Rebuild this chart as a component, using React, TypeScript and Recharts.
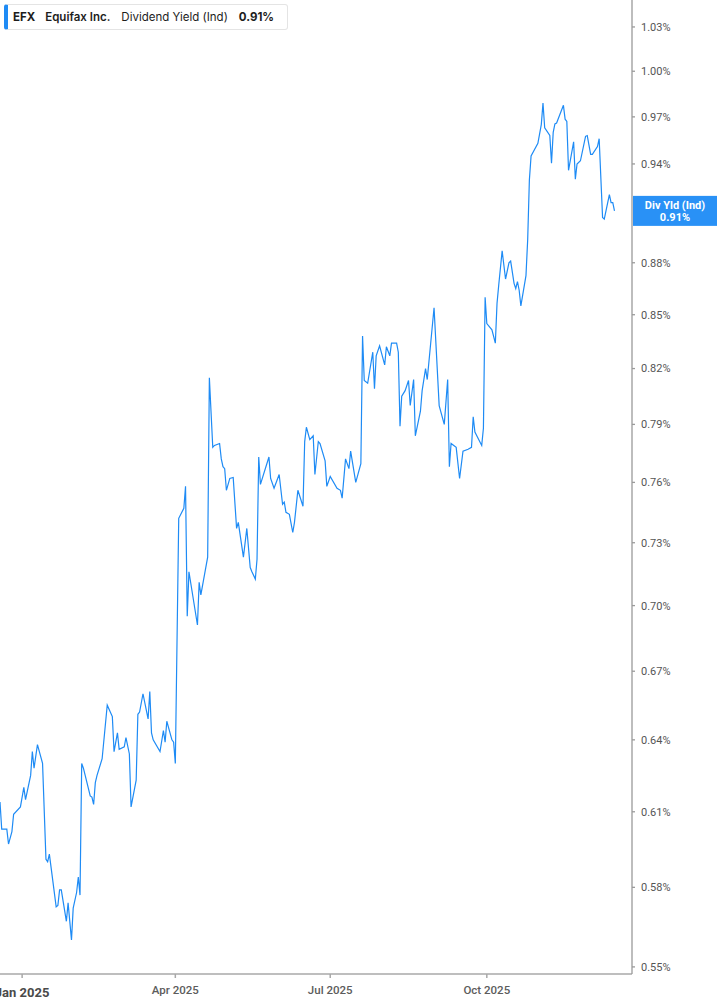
import React from "react";
import { LineChart, Line, XAxis, YAxis, ReferenceLine } from "recharts";

const dates: string[] = [
  "2024-12-19","2024-12-20","2024-12-23","2024-12-24","2024-12-26","2024-12-27","2024-12-31",
  "2025-01-02","2025-01-03","2025-01-06","2025-01-07","2025-01-08","2025-01-10","2025-01-13",
  "2025-01-15","2025-01-16","2025-01-17","2025-01-21","2025-01-22","2025-01-23","2025-01-24",
  "2025-01-27","2025-01-28","2025-01-30","2025-01-31","2025-02-02","2025-02-03","2025-02-04",
  "2025-02-05","2025-02-06","2025-02-10","2025-02-11","2025-02-12","2025-02-13","2025-02-14",
  "2025-02-17","2025-02-20","2025-02-23","2025-02-24","2025-02-26","2025-02-27","2025-03-02",
  "2025-03-03","2025-03-05","2025-03-06","2025-03-09","2025-03-10","2025-03-11","2025-03-13",
  "2025-03-16","2025-03-17","2025-03-18","2025-03-19","2025-03-23","2025-03-25","2025-03-26",
  "2025-03-27","2025-03-30","2025-03-31","2025-04-01","2025-04-03","2025-04-06","2025-04-07",
  "2025-04-08","2025-04-09","2025-04-14","2025-04-15","2025-04-16","2025-04-20","2025-04-21",
  "2025-04-23","2025-04-24","2025-04-27","2025-04-28","2025-04-29","2025-04-30","2025-05-01",
  "2025-05-03","2025-05-05","2025-05-07","2025-05-08","2025-05-11","2025-05-13","2025-05-15",
  "2025-05-16","2025-05-18","2025-05-19","2025-05-20","2025-05-21","2025-05-26","2025-05-27",
  "2025-05-29","2025-06-01","2025-06-03","2025-06-04","2025-06-05","2025-06-07","2025-06-09",
  "2025-06-10","2025-06-12","2025-06-15","2025-06-16","2025-06-17","2025-06-19","2025-06-21",
  "2025-06-22","2025-06-24","2025-06-25","2025-06-28","2025-06-29","2025-07-01","2025-07-05",
  "2025-07-07","2025-07-08","2025-07-10","2025-07-12","2025-07-13","2025-07-16","2025-07-19",
  "2025-07-20","2025-07-21","2025-07-23","2025-07-26","2025-07-27","2025-07-28","2025-07-30",
  "2025-08-02","2025-08-03","2025-08-05","2025-08-06","2025-08-09","2025-08-10","2025-08-11",
  "2025-08-12","2025-08-14","2025-08-16","2025-08-17","2025-08-19","2025-08-20","2025-08-23",
  "2025-08-24","2025-08-26","2025-08-27","2025-08-31","2025-09-03","2025-09-06","2025-09-08",
  "2025-09-09","2025-09-10","2025-09-13","2025-09-15","2025-09-17","2025-09-20","2025-09-22",
  "2025-09-23","2025-09-24","2025-09-28","2025-09-29","2025-09-30","2025-10-01","2025-10-04",
  "2025-10-06","2025-10-07","2025-10-08","2025-10-10","2025-10-12","2025-10-14","2025-10-15",
  "2025-10-17","2025-10-18","2025-10-19","2025-10-20","2025-10-21","2025-10-24","2025-10-25",
  "2025-10-26","2025-10-27","2025-10-31","2025-11-02","2025-11-03","2025-11-04","2025-11-07",
  "2025-11-08","2025-11-09","2025-11-10","2025-11-11","2025-11-15","2025-11-16","2025-11-17",
  "2025-11-18","2025-11-21","2025-11-22","2025-11-23","2025-11-25","2025-11-28","2025-11-29",
  "2025-12-01","2025-12-02","2025-12-05","2025-12-06","2025-12-08","2025-12-09","2025-12-12",
  "2025-12-13","2025-12-14","2025-12-15",
];

const divYield: number[] = [
  0.614,0.603,0.603,0.597,0.602,0.609,0.612,
  0.620,0.615,0.625,0.635,0.628,0.638,0.630,
  0.591,0.590,0.593,0.5725,0.573,0.579,0.579,
  0.567,0.574,0.560,0.572,0.578,0.584,0.577,
  0.630,0.628,0.6165,0.616,0.613,0.622,0.625,
  0.632,0.655,0.650,0.635,0.643,0.636,0.637,
  0.641,0.634,0.612,0.623,0.651,0.652,0.660,
  0.649,0.661,0.643,0.640,0.635,0.644,0.639,
  0.648,0.640,0.639,0.630,0.742,0.747,0.758,
  0.695,0.716,0.691,0.711,0.705,0.723,0.815,
  0.778,0.779,0.780,0.772,0.768,0.767,0.756,
  0.762,0.7625,0.737,0.740,0.723,0.737,0.718,
  0.716,0.7125,0.722,0.773,0.759,0.773,0.762,
  0.757,0.764,0.749,0.750,0.745,0.744,0.735,
  0.740,0.756,0.748,0.781,0.7885,0.782,0.784,
  0.764,0.781,0.780,0.771,0.758,0.763,0.757,
  0.756,0.752,0.772,0.767,0.776,0.760,0.7695,
  0.838,0.8135,0.812,0.829,0.809,0.827,0.8325,
  0.822,0.832,0.827,0.834,0.834,0.829,0.789,
  0.805,0.808,0.8135,0.800,0.814,0.784,0.797,
  0.808,0.820,0.814,0.854,0.800,0.790,0.814,
  0.768,0.780,0.778,0.762,0.776,0.777,0.778,
  0.794,0.786,0.779,0.788,0.860,0.845,0.8415,
  0.834,0.8565,0.867,0.887,0.8705,0.880,0.881,
  0.868,0.865,0.869,0.864,0.855,0.8725,0.8935,
  0.930,0.945,0.953,0.965,0.979,0.963,0.958,
  0.9405,0.960,0.9655,0.966,0.9775,0.9685,0.967,
  0.936,0.954,0.9305,0.940,0.942,0.9575,0.958,
  0.946,0.946,0.951,0.956,0.907,0.906,0.921,
  0.916,0.916,0.911,
];

const xTickDates: string[] = ["2025-01-01", "2025-04-01", "2025-07-01", "2025-10-01"];
const xTickLabels: string[] = ["Jan 2025", "Apr 2025", "Jul 2025", "Oct 2025"];
const yTicks: number[] = [0.55, 0.58, 0.61, 0.64, 0.67, 0.70, 0.73, 0.76, 0.79, 0.82, 0.85, 0.88, 0.94, 0.97, 1.0, 1.03];

const lastValueLabel = "0.91%";
const BLUE = "#1e8bf5";

const toTs = (d: string) => Date.parse(d + "T00:00:00Z");
const data = dates.map((d, i) => ({ t: toTs(d), v: divYield[i] }));
const xTicks = xTickDates.map(toTs);
const xDomain: [number, number] = [Date.UTC(2024, 11, 19), Date.UTC(2025, 11, 25, 7)];
const lastValue = divYield[divYield.length - 1];

const XTick = (props: any) => {
  const { x, y, payload } = props;
  const idx = xTicks.indexOf(payload.value);
  const label = xTickLabels[idx] ?? "";
  const isYear = idx === 0;
  return (
    <text
      x={x}
      y={y}
      dy={isYear ? 17 : 14}
      textAnchor="middle"
      fontFamily="Roboto, 'Liberation Sans', sans-serif"
      fontSize={isYear ? 13 : 11.5}
      fontWeight={isYear ? 700 : 500}
      fill={isYear ? "#4a4a4a" : "#5c5c5c"}
    >
      {label}
    </text>
  );
};

const PriceTag = (props: any) => {
  const vb = props.viewBox || {};
  const x0 = (vb.x ?? 0) + (vb.width ?? 0) + 1;
  const y0 = vb.y ?? 0;
  return (
    <g>
      <rect x={x0} y={y0 - 15} width={86} height={30} fill={BLUE} fillOpacity={0.95} />
      <text
        x={x0 + 42}
        y={y0 - 2}
        textAnchor="middle"
        fontFamily="Roboto, 'Liberation Sans', sans-serif"
        fontSize={11}
        fontWeight={700}
        fill="#ffffff"
      >
        Div Yld (Ind)
      </text>
      <text
        x={x0 + 42}
        y={y0 + 10}
        textAnchor="middle"
        fontFamily="Roboto, 'Liberation Sans', sans-serif"
        fontSize={11}
        fontWeight={700}
        fill="#ffffff"
      >
        {lastValueLabel}
      </text>
    </g>
  );
};

export default function App() {
  return (
    <div style={{ position: "absolute", left: 0, top: 0, width: 717, height: 1005, background: "#fff" }}>
      <LineChart width={717} height={1005} data={data} margin={{ top: 0, right: 0, bottom: 0, left: 0 }}>
        <XAxis
          dataKey="t"
          type="number"
          scale="time"
          domain={xDomain}
          allowDataOverflow
          ticks={xTicks}
          interval={0}
          height={31}
          stroke="#a8a8a8"
          strokeWidth={1.5}
          tickSize={4}
          tickMargin={2}
          tick={<XTick />}
        />
        <YAxis
          orientation="right"
          scale="log"
          domain={[0.5474, 1.0487]}
          allowDataOverflow
          ticks={yTicks}
          interval={0}
          width={85}
          stroke="#9a9a9a"
          strokeWidth={1.3}
          tickSize={3}
          tickMargin={6}
          tick={{ fontSize: 11, fill: "#555", fontFamily: "Roboto, 'Liberation Sans', sans-serif" }}
          tickFormatter={(v: number) => v.toFixed(2) + "%"}
        />
        <Line
          type="linear"
          dataKey="v"
          stroke={BLUE}
          strokeWidth={1.2}
          dot={false}
          activeDot={false}
          isAnimationActive={false}
        />
        <ReferenceLine y={lastValue} stroke="none" label={<PriceTag />} />
      </LineChart>
      <div
        style={{
          position: "absolute",
          left: 4,
          top: 4,
          height: 26,
          width: 284,
          boxSizing: "border-box",
          display: "flex",
          alignItems: "center",
          background: "#fff",
          border: "1px solid #e4e4e4",
          borderLeft: `4px solid ${BLUE}`,
          borderRadius: 3,
          fontFamily: "Inter, 'Noto Sans', sans-serif",
          fontSize: 11.5,
          color: "#1d1d1d",
          paddingLeft: 5,
          whiteSpace: "nowrap",
        }}
      >
        <span style={{ fontWeight: 700, marginRight: 10 }}>EFX</span>
        <span style={{ fontWeight: 600, marginRight: 11 }}>Equifax Inc.</span>
        <span style={{ fontWeight: 400, marginRight: 11 }}>Dividend Yield (Ind)</span>
        <span style={{ fontWeight: 700 }}>0.91%</span>
      </div>
    </div>
  );
}
